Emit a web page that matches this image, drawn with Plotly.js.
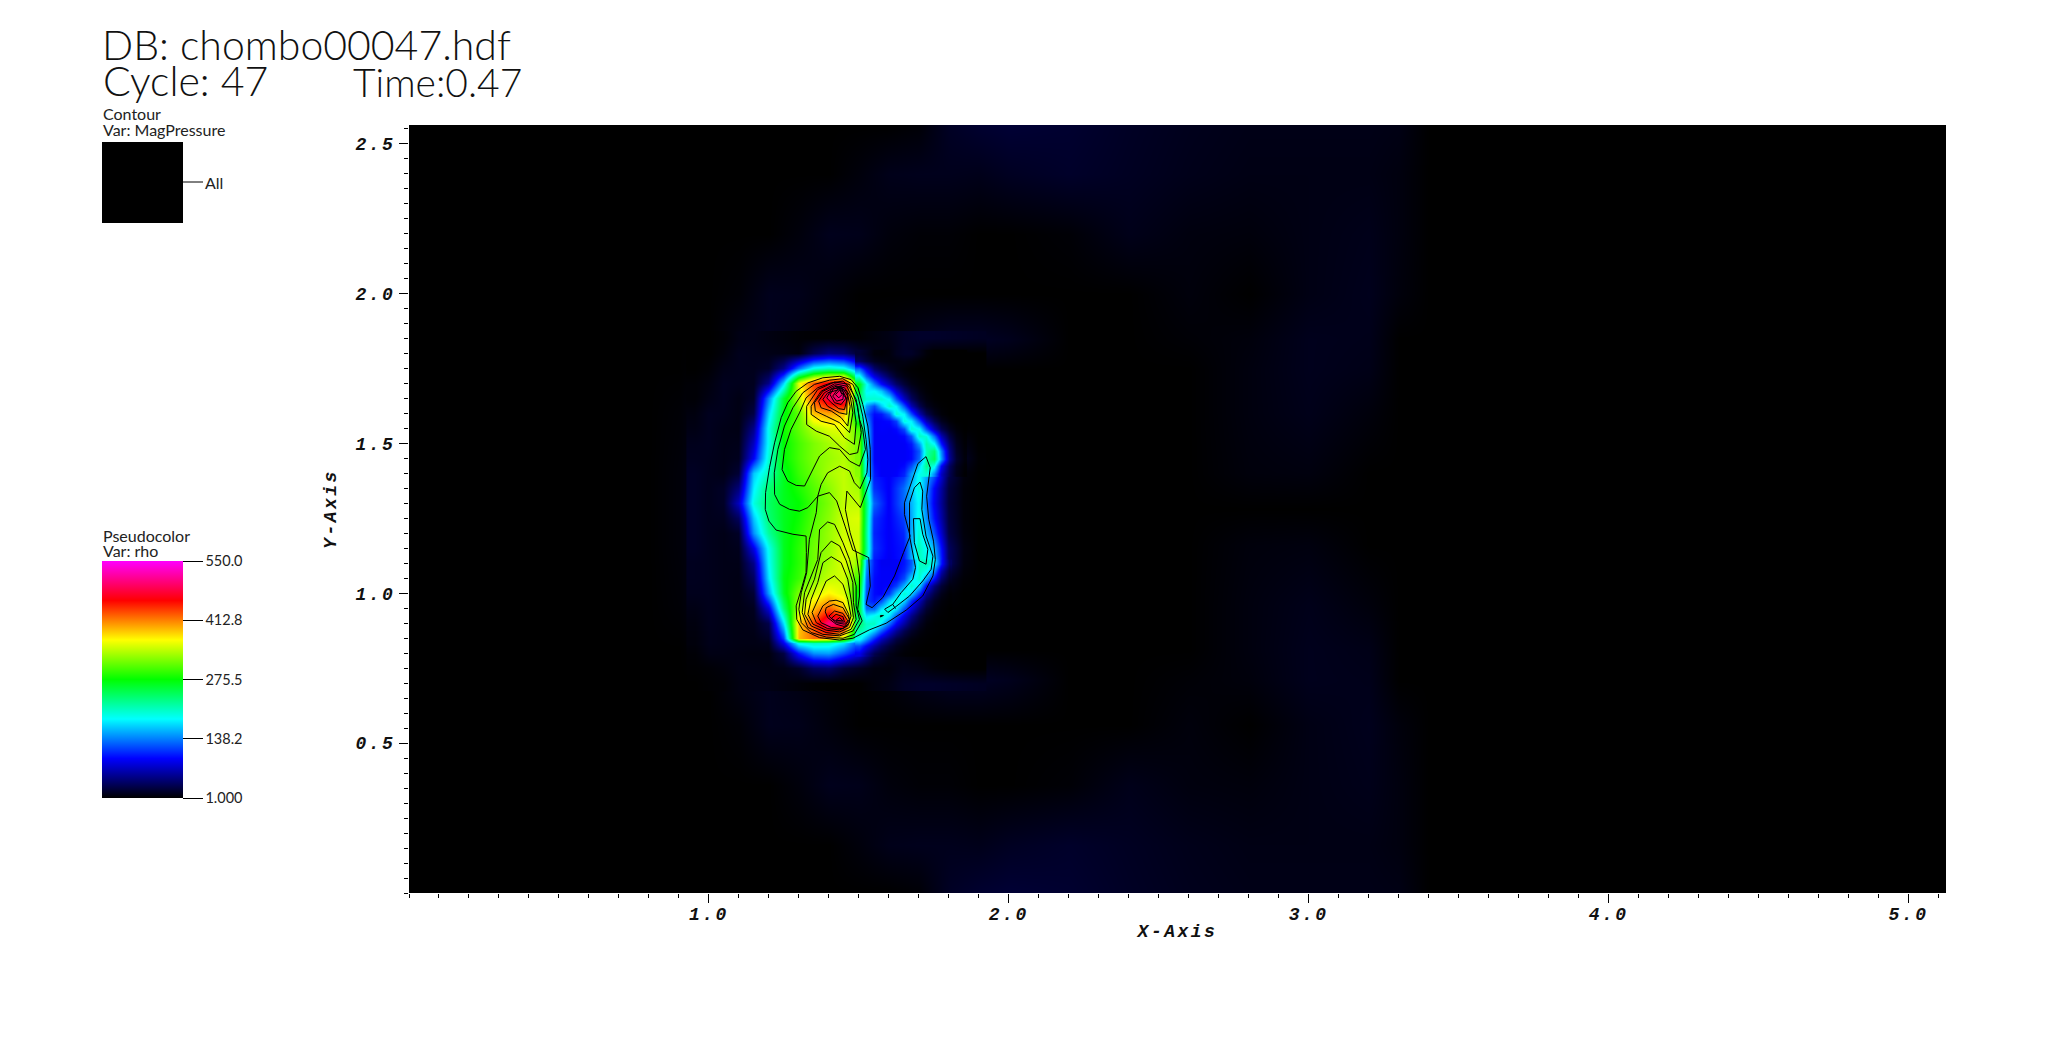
<!DOCTYPE html>
<html><head><meta charset="utf-8">
<script src="https://cdn.plot.ly/plotly-3.0.1.min.js"></script>
<style>
html,body{margin:0;padding:0;background:#fff}
.xtick text,.ytick text,.xtitle,.ytitle{letter-spacing:2.5px}
</style></head><body><div id="chart" style="width:2048px;height:1051px"></div>
<script>
const tickX=[1,2,3,4,5], tickXText=['1.0','2.0','3.0','4.0','5.0'];
const tickY=[0.5,1,1.5,2,2.5], tickYText=['0.5','1.0','1.5','2.0','2.5'];
const rhoTickVals=[1,138.2,275.5,412.8,550], rhoTickText=['1.000','138.2','275.5','412.8','550.0'];

// faint density over the whole domain
const bgX=[0,.8,.9,1,1.1,1.2,1.3,1.4,1.5,1.6,1.7,1.8,1.9,2,2.2,2.4,2.6,2.8,3,3.2,3.3,3.4,5.125];
const bgY=[0,.16,.36,.56,.71,.81,.96,1.16,1.28,1.4,1.6,1.75,1.85,2,2.2,2.4,2.5625];
const bgRho=[
[1,1,1,1,1,1,1,1,1,1,3,14,18,20,18,14,11,9,9,9,8,1,1],
[1,1,1,1,1,1,1,1,5,10,11,11,10,13,16,13,10,8,8,8,6,1,1],
[1,1,1,1,1,1,5,11,10,5,3,3,1,1,3,10,6,5,8,10,6,1,1],
[1,1,1,1,3,11,10,5,1,1,1,1,1,1,1,1,5,1,8,11,5,1,1],
[1,1,1,1,8,11,7,3,1,4,10,14,14,11,1,1,3,5,11,10,1,1,1],
[1,1,1,5,11,8,3,1,1,1,1,1,1,1,1,1,1,6,11,9,1,1,1],
[1,1,3,11,9,1,1,1,1,1,1,1,1,1,1,1,1,6,10,5,1,1,1],
[1,1,4,11,3,1,1,1,1,1,1,1,1,1,1,1,1,5,6,1,1,1,1],
[1,1,4,11,1,1,1,1,1,1,1,1,1,1,1,1,1,1,1,1,1,1,1],
[1,1,4,11,3,1,1,1,1,1,1,1,1,1,1,1,1,5,6,1,1,1,1],
[1,1,3,11,9,1,1,1,1,1,1,1,1,1,1,1,1,6,10,5,1,1,1],
[1,1,1,5,11,8,3,1,1,1,1,1,1,1,1,1,1,6,11,9,1,1,1],
[1,1,1,1,8,11,7,3,1,4,10,14,14,11,1,1,3,5,11,10,1,1,1],
[1,1,1,1,3,11,10,5,1,1,1,1,1,1,1,1,5,1,8,11,5,1,1],
[1,1,1,1,1,1,5,11,10,5,3,3,1,1,3,10,6,5,8,10,6,1,1],
[1,1,1,1,1,1,1,1,5,10,11,11,10,13,16,13,10,8,8,8,6,1,1],
[1,1,1,1,1,1,1,1,1,1,3,14,18,20,18,14,11,9,9,9,8,1,1]];

// density around the dense clump
const rhoX=[.95,1,1.05,1.1,1.15,1.2,1.25,1.3,1.35,1.4,1.45,1.5,1.55,1.6,1.65,1.7,1.75,1.8,1.85,1.9];
const rhoY=[.7,.75,.8,.835,.85,.9,.95,1,1.05,1.1,1.15,1.2,1.25,1.3,1.35,1.4,1.45,1.5,1.55,1.6,1.65,1.7,1.75,1.8,1.85];
const rho=[
[1,2,3,7,8,8,6,4,2,1,1,1,5,8,14,16,16,15,14,13],
[2,3,5,8,8,7,8,15,35,40,22,14,6,5,10,8,4,2,1,1],
[3,8,8,7,6,6,25,100,145,150,120,85,28,10,5,2,1,1,1,1],
[5,10,9,8,8,10,85,190,205,200,175,115,65,25,8,3,2,1,1,1],
[5,10,9,8,8,15,115,390,420,415,350,190,110,50,15,4,2,1,1,1],
[6,11,9,8,10,28,175,385,435,505,495,240,180,130,60,12,3,1,1,1],
[8,11,9,8,12,80,235,340,390,425,390,260,170,190,120,40,8,2,1,1],
[11,11,9,8,20,150,265,320,350,370,355,270,100,110,185,130,30,5,1,1],
[12,11,9,8,35,175,270,295,325,345,350,300,100,90,130,190,110,14,3,1],
[12,11,9,9,50,185,265,290,315,335,355,330,100,88,100,205,180,35,6,1],
[14,11,9,11,85,190,265,290,315,330,355,350,110,90,100,210,160,35,7,1],
[14,11,9,15,145,220,265,285,310,330,350,350,105,90,105,200,125,25,5,1],
[14,11,12,35,165,235,265,280,305,325,350,355,110,90,115,190,100,22,4,1],
[14,11,15,70,195,240,265,275,300,320,345,345,130,90,130,185,90,20,4,1],
[14,11,15,45,180,235,265,285,305,325,345,335,110,90,130,195,95,22,4,1],
[14,11,9,20,165,210,265,295,315,335,345,325,100,90,105,185,130,30,6,1],
[12,11,9,12,90,200,275,300,320,330,340,320,105,90,90,170,215,55,14,2],
[11,12,9,10,70,190,275,300,320,335,345,320,100,88,88,130,170,40,8,1],
[8,12,9,8,50,190,280,310,340,355,360,300,100,90,95,170,80,12,2,1],
[6,12,11,8,25,170,270,310,390,400,390,230,110,100,150,70,15,4,1,1],
[3,8,12,8,15,140,260,340,430,490,510,230,170,150,60,20,5,2,1,1],
[3,6,12,11,12,50,170,360,430,470,490,270,170,70,30,8,3,1,1,1],
[1,3,9,11,11,15,50,130,190,205,190,130,50,20,5,2,1,1,1,1],
[1,1,5,11,10,9,8,6,30,45,40,20,10,6,15,10,1,1,1,1],
[1,1,3,8,9,7,5,3,2,2,2,2,5,8,14,16,16,15,14,13]];

// finer density along the thin upper arc of the shell
const arcX=[1.5,1.525,1.55,1.575,1.6,1.625,1.65,1.675,1.7,1.725,1.75,1.775,1.8,1.825,1.85];
const arcY=[1.4,1.425,1.45,1.475,1.5,1.525,1.55,1.575,1.6,1.625,1.65,1.675,1.7,1.725,1.75,1.775,1.8];
const arcRho=[
[325,175,100,90,90,92,105,150,190,200,140,70,30,10,2],
[322,175,95,90,90,90,95,120,170,225,190,90,35,12,3],
[320,170,90,90,90,90,90,95,130,215,245,150,55,18,5],
[320,170,90,90,90,90,90,95,125,210,235,140,50,15,4],
[320,170,90,90,90,90,90,100,150,215,185,100,40,12,3],
[310,170,90,90,90,90,95,125,205,195,130,65,25,8,2],
[300,165,90,92,90,95,120,200,185,120,65,30,12,4,1],
[265,150,90,92,95,115,195,180,120,65,30,12,4,1,1],
[230,130,95,100,130,200,180,120,65,30,12,4,1,1,1],
[235,150,120,165,205,180,120,65,30,12,5,2,1,1,1],
[230,200,200,200,180,120,70,35,15,6,2,1,1,1,1],
[260,180,185,165,120,75,40,20,8,3,1,1,1,1,1],
[270,190,135,95,65,38,20,9,4,2,1,1,1,1,1],
[190,125,80,55,32,16,8,4,2,1,1,1,1,1,1],
[130,85,40,25,14,8,4,2,1,1,1,1,1,1,1],
[35,22,12,8,6,6,8,6,3,1,1,1,1,1,1],
[20,14,5,4,6,12,15,15,10,4,1,1,1,1,1]];

// finer density along the lower arm of the shell
const armX=[1.5,1.525,1.55,1.575,1.6,1.625,1.65,1.675,1.7,1.725,1.75,1.775,1.8];
const armY=[.8,.825,.85,.875,.9,.925,.95,.975,1,1.025,1.05,1.075,1.1];
const armRho=[
[85,55,28,18,10,6,3,2,1,1,1,1,1],
[120,90,60,38,22,12,6,3,2,1,1,1,1],
[190,150,105,70,45,25,14,6,3,2,1,1,1],
[215,200,165,125,85,55,30,16,7,3,2,1,1],
[240,205,205,175,130,90,58,30,14,5,2,1,1],
[245,175,190,205,175,125,85,50,24,10,4,2,1],
[260,130,130,175,200,175,120,80,42,18,7,3,1],
[265,115,100,120,170,200,170,110,68,32,13,5,2],
[270,120,95,92,115,165,200,170,110,55,26,10,3],
[285,125,95,90,95,115,160,205,170,90,45,20,7],
[300,130,95,90,90,95,120,175,200,150,95,40,14],
[315,140,98,90,90,90,105,135,205,190,140,65,22],
[330,150,100,88,88,90,100,125,205,210,180,100,35]];

// MagPressure contour lines
const c1X=[1.436,1.38,1.33,1.291,1.263,1.241,1.219,1.202,1.189,1.188,1.2,1.224,1.28,1.324,1.325,1.324,1.308,1.291,1.293,1.313,1.369,1.436,1.48,1.535,1.591,1.658,1.713,1.747,1.755,1.749,1.733,1.726,1.738,1.724,1.697,1.677,1.652,1.652,1.671,1.649,1.619,1.58,1.544,1.524,1.538,1.533,1.48,1.454,1.426,1.402,1.363,1.33,1.302,1.269,1.236,1.219,1.218,1.23,1.252,1.28,1.313,1.352,1.402,1.446,1.48,1.497,1.513,1.524,1.53,1.527,1.504,1.485,1.469,1.436,1.396,1.374,1.363,1.358,1.335,1.326,1.308,1.3,1.308,1.341,1.391,1.447,1.485,1.511,1.496,1.502,1.502,1.491,1.471,1.455,1.46,1.505,1.539,1.538,1.53,1.513,1.497,1.474,1.436];
const c1Y=[1.724,1.719,1.702,1.674,1.636,1.586,1.502,1.419,1.336,1.28,1.241,1.211,1.197,1.191,1.136,1.069,1.013,.958,.913,.878,.852,.844,.85,.878,.9,.944,.991,1.058,1.113,1.174,1.247,1.324,1.419,1.456,1.433,1.374,1.302,1.263,1.191,1.136,1.058,.986,.952,.963,1.024,1.119,1.144,1.224,1.308,1.336,1.324,1.286,1.274,1.28,1.297,1.33,1.402,1.48,1.558,1.619,1.669,1.697,1.711,1.716,1.697,1.658,1.591,1.513,1.447,1.402,1.349,1.369,1.408,1.424,1.402,1.363,1.324,1.269,1.18,1.069,1.002,.947,.902,.869,.854,.85,.863,.908,.947,.991,1.058,1.136,1.202,1.28,1.341,1.286,1.38,1.48,1.558,1.63,1.686,1.713,1.724];
const c2X=[1.447,1.408,1.363,1.324,1.302,1.274,1.252,1.244,1.263,1.291,1.319,1.347,1.369,1.402,1.436,1.469,1.502,1.522,1.513,1.502,1.491,1.469,1.447];
const c2Y=[1.708,1.702,1.686,1.652,1.602,1.547,1.48,1.413,1.374,1.36,1.358,1.413,1.458,1.486,1.48,1.441,1.424,1.48,1.547,1.58,1.647,1.686,1.708];
const c3X=[1.326,1.326,1.358,1.402,1.436,1.469,1.496,1.508,1.496,1.469,1.419,1.363,1.326];
const c3Y=[1.624,1.563,1.541,1.524,1.491,1.463,1.469,1.536,1.624,1.697,1.705,1.68,1.624];
const c4X=[1.341,1.341,1.374,1.419,1.452,1.485,1.491,1.48,1.46,1.419,1.374,1.341];
const c4Y=[1.624,1.597,1.574,1.563,1.519,1.497,1.569,1.647,1.691,1.699,1.674,1.624];
const c5X=[1.352,1.355,1.391,1.436,1.469,1.48,1.471,1.452,1.419,1.38,1.352];
const c5Y=[1.636,1.608,1.591,1.569,1.536,1.602,1.658,1.686,1.693,1.674,1.636];
const c6X=[1.366,1.374,1.408,1.441,1.463,1.471,1.46,1.424,1.385,1.366];
const c6Y=[1.641,1.619,1.608,1.586,1.558,1.624,1.674,1.691,1.669,1.641];
const c7X=[1.38,1.396,1.436,1.46,1.46,1.436,1.396,1.38];
const c7Y=[1.647,1.624,1.602,1.597,1.647,1.68,1.669,1.647];
const c8X=[1.393,1.408,1.433,1.452,1.463,1.441,1.408,1.393];
const c8Y=[1.652,1.636,1.616,1.613,1.658,1.691,1.68,1.652];
const c9X=[1.404,1.419,1.441,1.458,1.441,1.415,1.404];
const c9Y=[1.663,1.636,1.63,1.652,1.686,1.682,1.663];
const c10X=[1.413,1.426,1.447,1.449,1.433,1.413];
const c10Y=[1.658,1.641,1.647,1.671,1.686,1.658];
const c11X=[1.422,1.433,1.444,1.436,1.422];
const c11Y=[1.663,1.652,1.663,1.678,1.663];
const c12X=[1.363,1.369,1.396,1.419,1.447,1.469,1.491,1.491,1.502,1.48,1.436,1.38,1.33,1.311,1.319,1.341,1.363];
const c12Y=[1.113,1.213,1.238,1.23,1.169,1.113,1.024,.958,.913,.874,.858,.863,.886,.936,1.002,1.058,1.113];
const c13X=[1.408,1.374,1.352,1.324,1.319,1.341,1.391,1.436,1.474,1.491,1.482,1.48,1.458,1.436,1.408];
const c13Y=[1.174,1.136,1.047,.98,.93,.891,.869,.863,.88,.913,.969,1.036,1.108,1.158,1.174];
const c14X=[1.408,1.38,1.363,1.341,1.33,1.347,1.391,1.436,1.469,1.482,1.474,1.463,1.441,1.408];
const c14Y=[1.122,1.102,1.036,.98,.93,.897,.877,.871,.886,.919,.98,1.047,1.102,1.122];
const c15X=[1.419,1.391,1.369,1.344,1.358,1.396,1.436,1.463,1.474,1.463,1.447,1.419];
const c15Y=[1.058,1.041,.991,.936,.902,.882,.878,.891,.924,.98,1.03,1.058];
const c16X=[1.402,1.38,1.363,1.374,1.408,1.447,1.469,1.466,1.447,1.424,1.402];
const c16Y=[.974,.958,.924,.902,.886,.882,.902,.93,.969,.977,.974];
const c17X=[1.388,1.396,1.424,1.452,1.469,1.447,1.415,1.391,1.388];
const c17Y=[.938,.919,.897,.889,.913,.952,.963,.952,.938];
const c18X=[1.4,1.424,1.452,1.463,1.447,1.419,1.4];
const c18Y=[.924,.902,.897,.908,.933,.941,.924];
const c19X=[1.408,1.43,1.452,1.447,1.424,1.408];
const c19Y=[.916,.904,.904,.922,.93,.916];
const c20X=[1.424,1.447,1.436,1.424];
const c20Y=[.91,.908,.919,.91];
const c21X=[1.704,1.713,1.71,1.724,1.747,1.741,1.713,1.669,1.619,1.597,1.586,1.613,1.641,1.68,1.689,1.669,1.669,1.685,1.704];
const c21Y=[1.371,1.341,1.28,1.191,1.124,1.08,1.041,.991,.952,.936,.947,.963,1.002,1.047,1.086,1.191,1.302,1.352,1.371];
const c22X=[1.682,1.704,1.713,1.73,1.724,1.702,1.685,1.682];
const c22Y=[1.249,1.249,1.197,1.147,1.097,1.108,1.169,1.249];
const c23X=[1.572,1.582,1.572,1.572];
const c23Y=[.926,.926,.921,.926];
const c24X=[1.613,1.622];
const c24Y=[.963,.949];
const contours=[[c1X,c1Y],[c2X,c2Y],[c3X,c3Y],[c4X,c4Y],[c5X,c5Y],[c6X,c6Y],[c7X,c7Y],[c8X,c8Y],[c9X,c9Y],[c10X,c10Y],[c11X,c11Y],[c12X,c12Y],[c13X,c13Y],[c14X,c14Y],[c15X,c15Y],[c16X,c16Y],[c17X,c17Y],[c18X,c18Y],[c19X,c19Y],[c20X,c20Y],[c21X,c21Y],[c22X,c22Y],[c23X,c23Y],[c24X,c24Y]];

const W=2048,H=1051;
const L=409,R=1946,T=125,B=893;
const pfx=v=>(v-L)/(R-L), pfy=v=>(B-v)/(B-T);
const scale=[[0,'#000000'],[1/6,'#0000ff'],[2/6,'#00ffff'],[.5,'#00ff00'],[4/6,'#ffff00'],[5/6,'#ff0000'],[1,'#ff00ff']];
const legendFont={family:'Lato, sans-serif',size:16,color:'#222'};
const bigFont={family:'Lato, sans-serif',size:41,color:'#111',weight:300};
const bigFont2={family:'Lato, sans-serif',size:39,color:'#111',weight:300};
const hm=(x,y,z)=>({type:'heatmap',x,y,z,zmin:1,zmax:550,colorscale:scale,zsmooth:'best',showscale:false,hoverinfo:'skip'});
const traces=[
 hm(bgX,bgY,bgRho),
 {type:'heatmap',x:rhoX,y:rhoY,z:rho,zmin:1,zmax:550,colorscale:scale,zsmooth:'best',
  colorbar:{xref:'paper',yref:'paper',x:pfx(102),xanchor:'left',y:pfy(798),yanchor:'bottom',lenmode:'pixels',len:236.5,
   thicknessmode:'pixels',thickness:81,xpad:0,ypad:0,outlinewidth:0,borderwidth:0,ticks:'outside',ticklen:20,tickwidth:1,tickcolor:'#000',
   tickmode:'array',tickvals:rhoTickVals,ticktext:rhoTickText,tickfont:{family:'Lato, sans-serif',size:14.5,color:'#222'}}},
 hm(arcX,arcY,arcRho),
 hm(armX,armY,armRho),
 ...contours.map((c,i)=>({type:'scatter',mode:'lines',x:c[0],y:c[1],line:{color:'#000',width:1},showlegend:false,name:'MagPressure '+(i+1),hoverinfo:'skip'}))
];
const tickFont={family:'Liberation Mono, monospace',size:18,weight:'bold',style:'italic',color:'#111'};
const ann=(x,y,text,font,yanchor)=>({xref:'paper',yref:'paper',x:pfx(x),y:pfy(y),xanchor:'left',yanchor:yanchor||'middle',showarrow:false,borderpad:0,text,font});
const layout={
 width:W,height:H,paper_bgcolor:'#fff',plot_bgcolor:'#000',showlegend:false,
 margin:{l:L,r:W-R,t:T,b:H-B,pad:0},
 title:{text:'DB: chombo00047.hdf',x:102/W,xref:'container',xanchor:'left',y:(H-60)/H,yref:'container',yanchor:'bottom',pad:{t:0,b:0,l:0,r:0},font:bigFont},
 xaxis:{range:[0,5.125],showgrid:false,zeroline:false,showline:false,tickmode:'array',tickvals:tickX,ticktext:tickXText,ticks:'outside',ticklen:9,tickwidth:1,tickcolor:'#000',tickfont:tickFont,ticklabelstandoff:-5,
  minor:{dtick:.1,ticks:'outside',ticklen:4,tickwidth:1,tickcolor:'#000',showgrid:false},
  title:{text:'X-Axis',font:tickFont,standoff:0}},
 yaxis:{range:[0,2.5625],showgrid:false,zeroline:false,showline:false,tickmode:'array',tickvals:tickY,ticktext:tickYText,ticks:'outside',ticklen:9,tickwidth:1,tickcolor:'#000',tickfont:tickFont,
  minor:{dtick:.05,ticks:'outside',ticklen:4,tickwidth:1,tickcolor:'#000',showgrid:false},
  title:{text:'Y-Axis',font:tickFont,standoff:14}},
 shapes:[
  {type:'rect',xref:'paper',yref:'paper',x0:pfx(102),x1:pfx(183),y0:pfy(223),y1:pfy(142),fillcolor:'#000',line:{width:0}},
  {type:'line',xref:'paper',yref:'paper',x0:pfx(183),x1:pfx(203),y0:pfy(182),y1:pfy(182),line:{color:'#000',width:1}}
 ],
 annotations:[
  ann(102,106,'Cycle: 47',bigFont,'bottom'),
  ann(352,106,'Time:0.47',bigFont2,'bottom'),
  ann(102,114,'Contour',legendFont),
  ann(102,130,'Var: MagPressure',legendFont),
  ann(204,182,'All',legendFont),
  ann(102,535,'Pseudocolor',legendFont),
  ann(102,550,'Var: rho',legendFont)
 ]
};
Plotly.newPlot('chart',traces,layout,{displayModeBar:false,responsive:false});
</script></body></html>
